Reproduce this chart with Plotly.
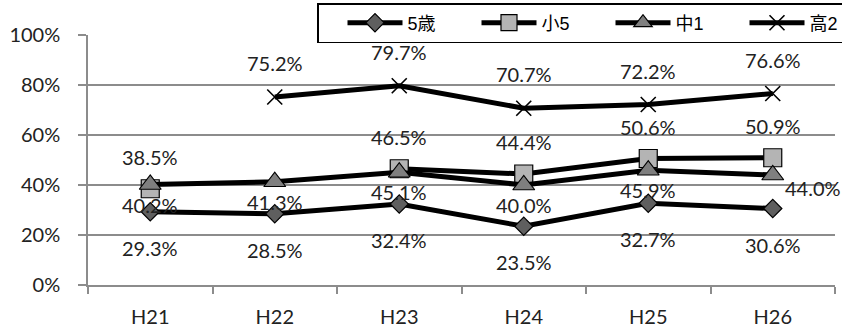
import plotly.graph_objects as go

# Survey years and rates (fraction of respondents) per age group
years = ["H21", "H22", "H23", "H24", "H25", "H26"]
age5 = [0.293, 0.285, 0.324, 0.235, 0.327, 0.306]
grade5 = [0.385, None, 0.465, 0.444, 0.506, 0.509]
junior1 = [0.402, 0.413, 0.451, 0.400, 0.459, 0.440]
senior2 = [None, 0.752, 0.797, 0.707, 0.722, 0.766]

series = [
    ("5歳", age5, dict(symbol="diamond", size=14, color="#5f5f5f",
                      line=dict(color="#000000", width=1.2))),
    ("小5", grade5, dict(symbol="square", size=18, color="#b4b4b4",
                       line=dict(color="#000000", width=1.2))),
    ("中1", junior1, dict(symbol="triangle-up", size=19, color="#7f7f7f",
                        line=dict(color="#000000", width=1.2))),
    ("高2", senior2, dict(symbol="x-thin", size=15, color="#000000",
                        line=dict(color="#000000", width=1.6))),
]

# label offsets in pixels (xshift, yshift) for each series
label_shift = {
    "5歳": (0, -36),
    "小5": (0, 32),
    "中1": (0, -20),
    "高2": (0, 34),
}

BASE_FONT = "Lato, Carlito, 'Noto Sans', sans-serif"
LABEL_FONT = dict(family=BASE_FONT, size=20, color="#222222")

fig = go.Figure()
for name, vals, marker in series:
    fig.add_trace(go.Scatter(
        x=years, y=vals, name=name, mode="lines+markers",
        line=dict(color="#000000", width=5),
        marker=marker, connectgaps=False,
    ))

annotations = []
for name, vals, _ in series:
    dx, dy = label_shift[name]
    for i, (yr, v) in enumerate(zip(years, vals)):
        if v is None:
            continue
        sx, sy = dx, dy
        if name == "中1" and i == len(years) - 1:
            sx, sy = 40, -13
        annotations.append(dict(
            x=yr, y=v, xref="x", yref="y", text=f"{v * 100:.1f}%",
            showarrow=False, xshift=sx, yshift=sy, font=LABEL_FONT,
        ))

fig.update_layout(
    width=842, height=330,
    margin=dict(l=88, r=7, t=35, b=45, autoexpand=False),
    paper_bgcolor="white", plot_bgcolor="white",
    showlegend=True,
    legend=dict(
        orientation="h", xref="container", yref="container",
        x=317 / 842, xanchor="left", y=1 - 3 / 330, yanchor="top",
        bordercolor="#000000", borderwidth=1.5, bgcolor="white",
        font=dict(family="'Liberation Sans', Arial, 'Noto Sans CJK JP', sans-serif",
                  size=18, color="#000000"),
        itemwidth=55, entrywidth=40, entrywidthmode="pixels", traceorder="normal",
        indentation=24, itemclick=False,
    ),
    annotations=annotations,
    xaxis=dict(
        type="category", categoryorder="array", categoryarray=years,
        range=[-0.5, 5.5], autorange=False,
        tickson="boundaries", ticks="outside", ticklen=7, tickwidth=1.5,
        tickcolor="#8c8c8c", showline=True, linecolor="#8c8c8c", linewidth=1.5,
        showgrid=False, ticklabelstandoff=13, automargin=False,
        tickfont=dict(family=BASE_FONT, size=20, color="#222222"),
    ),
    yaxis=dict(
        range=[0, 1], tickvals=[0, 0.2, 0.4, 0.6, 0.8, 1.0],
        tickformat=".0%", ticks="outside", ticklen=8, tickwidth=1.5,
        tickcolor="#8c8c8c", showline=True, linecolor="#8c8c8c", linewidth=1.5,
        showgrid=True, gridcolor="#8c8c8c", gridwidth=1.5, zeroline=False,
        ticklabelstandoff=14, automargin=False,
        tickfont=dict(family=BASE_FONT, size=20, color="#222222"),
    ),
)

fig.write_html("out.html")
